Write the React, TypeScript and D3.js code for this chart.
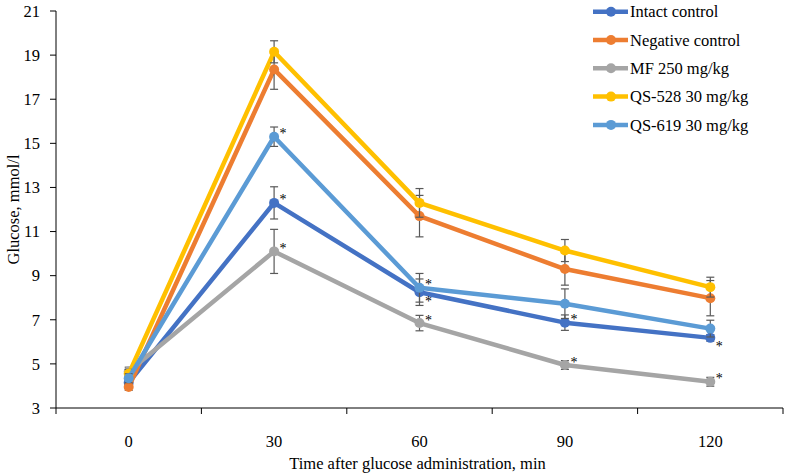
import * as d3 from "d3";

const times = ["0", "30", "60", "90", "120"];

const seriesNames = [
  "Intact control",
  "Negative control",
  "MF 250 mg/kg",
  "QS-528 30 mg/kg",
  "QS-619 30 mg/kg",
];

const intactControl = [4.15, 12.3, 8.25, 6.87, 6.18];
const negativeControl = [3.95, 18.35, 11.7, 9.3, 7.98];
const mf250 = [4.65, 10.1, 6.85, 4.95, 4.19];
const qs528 = [4.55, 19.15, 12.3, 10.14, 8.48];
const qs619 = [4.35, 15.3, 8.45, 7.73, 6.6];

const intactErr = [0.2, 0.73, 0.6, 0.35, 0.15];
const negativeErr = [0.15, 0.9, 0.94, 0.73, 0.8];
const mfErr = [0.2, 1.0, 0.35, 0.2, 0.2];
const qs528Err = [0.2, 0.5, 0.65, 0.5, 0.45];
const qs619Err = [0.2, 0.44, 0.65, 0.67, 0.38];

// series index, time index, star above (-1) or below (1) the point
const stars: [number, number, number][] = [
  [0, 1, -1],
  [0, 2, 1],
  [0, 3, -1],
  [0, 4, 1],
  [2, 1, -1],
  [2, 2, -1],
  [2, 3, -1],
  [2, 4, -1],
  [4, 1, -1],
  [4, 2, -1],
];

const yTicks = [3, 5, 7, 9, 11, 13, 15, 17, 19, 21];

const colors = ["#4472C4", "#ED7D31", "#A5A5A5", "#FFC000", "#5B9BD5"];
const font = "'Liberation Serif', 'Times New Roman', serif";

export default function App() {
  const width = 787;
  const height = 473;
  const left = 56;
  const right = 783;
  const top = 11;
  const bottom = 408;
  const fs = 16.5;

  const values = [intactControl, negativeControl, mf250, qs528, qs619];
  const errors = [intactErr, negativeErr, mfErr, qs528Err, qs619Err];

  const x = d3.scaleBand().domain(times).range([left, right]).padding(0);
  const cx = (t: string) => (x(t) as number) + x.bandwidth() / 2;
  const y = d3.scaleLinear().domain([3, 21]).range([bottom, top]);

  const line = d3
    .line<number>()
    .x((_, i) => cx(times[i]))
    .y((d) => y(d));

  const boundaries = times.map((t) => x(t) as number).concat([right]);

  return (
    <svg
      width={width}
      height={height}
      style={{ position: "absolute", left: 0, top: 0, background: "#fff" }}
      fontFamily={font}
    >
      {/* y axis */}
      <line x1={left} x2={left} y1={top} y2={bottom} stroke="#000" strokeWidth={1} />
      {yTicks.map((t) => (
        <g key={t}>
          <line x1={left - 6} x2={left} y1={y(t)} y2={y(t)} stroke="#000" />
          <text x={left - 16} y={y(t)} dy="0.35em" textAnchor="end" fontSize={fs}>
            {t}
          </text>
        </g>
      ))}
      <text
        transform={`translate(13,${(top + bottom) / 2}) rotate(-90)`}
        textAnchor="middle"
        fontSize={fs}
        dy="0.35em"
      >
        Glucose, mmol/l
      </text>

      {/* x axis */}
      <line x1={left} x2={right} y1={bottom} y2={bottom} stroke="#000" strokeWidth={1} />
      {boundaries.map((b, i) => (
        <line key={i} x1={b} x2={b} y1={bottom} y2={bottom + 6} stroke="#000" />
      ))}
      {times.map((t) => (
        <text key={t} x={cx(t)} y={441} dy="0.35em" textAnchor="middle" fontSize={fs}>
          {t}
        </text>
      ))}
      <text x={(left + right) / 2 - 2} y={463} dy="0.35em" textAnchor="middle" fontSize={fs}>
        Time after glucose administration, min
      </text>

      {/* series */}
      {values.map((vals, s) => (
        <g key={s}>
          <path
            d={line(vals) as string}
            fill="none"
            stroke={colors[s]}
            strokeWidth={4.5}
            strokeLinejoin="round"
          />
          {vals.map((v, i) => {
            const px = cx(times[i]);
            const e = errors[s][i];
            return (
              <g key={i}>
                <line x1={px} x2={px} y1={y(v - e)} y2={y(v + e)} stroke="#595959" strokeWidth={1.2} />
                <line x1={px - 4} x2={px + 4} y1={y(v - e)} y2={y(v - e)} stroke="#595959" strokeWidth={1.2} />
                <line x1={px - 4} x2={px + 4} y1={y(v + e)} y2={y(v + e)} stroke="#595959" strokeWidth={1.2} />
                <circle cx={px} cy={y(v)} r={5} fill={colors[s]} />
              </g>
            );
          })}
        </g>
      ))}

      {/* significance marks */}
      {stars.map(([s, i, dir], k) => (
        <text
          key={k}
          x={cx(times[i]) + 9}
          y={y(values[s][i]) + dir * 6 + 7.6}
          fontSize={14}
          textAnchor="middle"
          fill="#000"
        >
          *
        </text>
      ))}

      {/* legend */}
      {seriesNames.map((name, s) => {
        const ly = 11.7 + s * 28.3;
        return (
          <g key={name}>
            <line x1={593} x2={628} y1={ly} y2={ly} stroke={colors[s]} strokeWidth={4.5} />
            <circle cx={611} cy={ly} r={5} fill={colors[s]} />
            <text x={630} y={ly} dy="0.35em" fontSize={fs}>
              {name}
            </text>
          </g>
        );
      })}
    </svg>
  );
}
